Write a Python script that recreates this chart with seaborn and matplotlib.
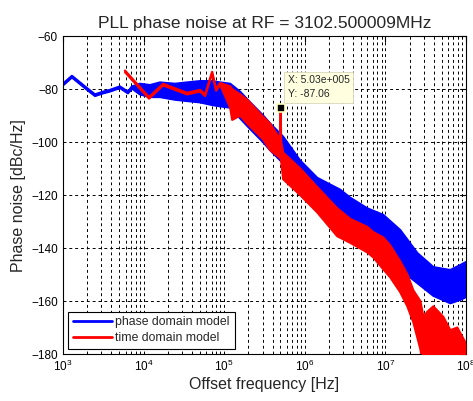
import numpy as np
import pandas as pd
import seaborn as sns
import matplotlib
matplotlib.use("Agg")
import matplotlib.pyplot as plt
from matplotlib.lines import Line2D
from matplotlib.ticker import LogLocator, LogFormatterMathtext, NullFormatter

# ---- data ----
title = "PLL phase noise at RF = 3102.500009MHz"
series_names = ["phase domain model", "time domain model"]

# phase domain model (blue): frequency, upper and lower edge of the noisy trace
blue_freq = [1000, 1294, 1875, 2500, 3140, 3840, 5100, 6410, 7190, 9060, 12050, 16000,
             24600, 34700, 50300, 71000, 89200, 1.19e5, 1.58e5, 2.10e5, 3.05e5, 3.72e5,
             5.41e5, 8.79e5, 1.43e6, 2.76e6, 3.67e6, 5.97e6, 9.44e6, 1.53e7, 2.50e7,
             3.95e7, 6.41e7, 8.55e7, 1.0e8]
blue_upper = [-78, -75, -79, -82, -81, -80.3, -79, -81, -79, -78, -78.5, -77.5,
              -78, -77.5, -77, -77, -77.5, -78, -81, -85, -90, -93,
              -98, -107, -113.5, -118, -121, -125, -127.5, -133.2, -141.9,
              -147.2, -148.3, -146.4, -145.3]
blue_lower = [-78.6, -75.6, -79.6, -82.6, -81.6, -80.9, -79.6, -81.6, -79.8, -82, -83, -83,
              -84, -84.5, -85, -86, -86.5, -87, -91, -95, -100, -103,
              -108, -118, -125, -130, -133, -137, -141, -148, -153.2,
              -158, -160.8, -159.5, -158.5]

# time domain model (red)
red_freq = [5890, 11700, 17500, 34700, 50300, 58100, 71000, 79600, 89200, 1.19e5,
            1.26e5, 1.58e5, 1.93e5, 3.05e5, 3.72e5, 4.95e5, 5.03e5, 5.10e5, 5.41e5,
            8.79e5, 1.43e6, 2.53e6, 3.67e6, 5.97e6, 7.1e6, 9.44e6, 1.15e7, 1.53e7,
            1.88e7, 2.23e7, 2.72e7, 2.97e7, 3.33e7, 3.95e7, 5.25e7, 6.41e7, 7.83e7, 1.0e8]
red_upper = [-73, -83, -78, -81.4, -80.3, -82, -73.5, -80, -77.7, -79,
             -80, -82, -84, -90.5, -93, -99, -87.06, -100, -104,
             -110, -117, -125, -129, -132, -134, -136, -139, -145,
             -150, -156, -160, -166, -164, -162, -166, -171, -170, -176]
red_lower = [-73.6, -83.6, -78.6, -82, -80.9, -82.6, -74.1, -80.6, -78.3, -87,
             -91.6, -90, -93, -99, -103, -106, -106, -107, -114,
             -120, -126.5, -135.5, -138, -141.6, -143.5, -148, -151, -156.6,
             -162, -168, -178, -185, -185, -185, -185, -185, -185, -185]

tip_x = 5.03e5
tip_y = -87.06

blue_df = pd.DataFrame({"f": blue_freq, "up": blue_upper, "lo": blue_lower})
red_df = pd.DataFrame({"f": red_freq, "up": red_upper, "lo": red_lower})

# ---- style ----
sns.set_style("white")
plt.rcParams["font.family"] = ["Liberation Sans", "DejaVu Sans"]
plt.rcParams["mathtext.fontset"] = "custom"
plt.rcParams["mathtext.rm"] = "Liberation Sans"

fig = plt.figure(figsize=(4.73, 4.01), dpi=100)
ax = fig.add_axes([0.133, 0.117, 0.852, 0.793])

blue = "#0000FF"
red = "#FF0000"

ax.fill_between(blue_df["f"], blue_df["lo"], blue_df["up"], color=blue, lw=0, zorder=2)
sns.lineplot(data=blue_df, x="f", y="up", color=blue, lw=1.6, ax=ax, zorder=2)
sns.lineplot(data=blue_df, x="f", y="lo", color=blue, lw=1.6, ax=ax, zorder=2)

ax.fill_between(red_df["f"], red_df["lo"], red_df["up"], color=red, lw=0, zorder=3)
sns.lineplot(data=red_df, x="f", y="up", color=red, lw=1.6, ax=ax, zorder=3)
sns.lineplot(data=red_df, x="f", y="lo", color=red, lw=1.6, ax=ax, zorder=3)

ax.set_xscale("log")
ax.set_xlim(1e3, 1e8)
ax.set_ylim(-180, -60)
ax.set_yticks(np.arange(-180, -59, 20))

ax.xaxis.set_major_locator(LogLocator(base=10))
ax.xaxis.set_major_formatter(LogFormatterMathtext())
ax.xaxis.set_minor_locator(LogLocator(base=10, subs=np.arange(2, 10)))
ax.xaxis.set_minor_formatter(NullFormatter())

grid_ls = (0, (3, 3))
ax.grid(True, which="major", axis="both", color="black", ls=grid_ls, lw=0.7, zorder=1)
ax.grid(True, which="minor", axis="x", color="black", ls=grid_ls, lw=0.7, zorder=1)
ax.set_axisbelow(True)

ax.tick_params(which="both", direction="in", top=True, right=True, colors="black",
               labelsize=8.5)
ax.tick_params(which="major", length=4, width=0.8)
ax.tick_params(which="minor", length=2, width=0.6)
for s in ax.spines.values():
    s.set_color("black")
    s.set_linewidth(0.8)

ax.set_xlabel("Offset frequency [Hz]", fontsize=11.5, labelpad=2)
ax.set_ylabel("Phase noise [dBc/Hz]", fontsize=11.5, labelpad=4)
ax.set_title(title, fontsize=12.5, pad=6)

# data tip
ax.plot([tip_x], [tip_y], marker="s", ms=6, mfc="black", mec="#FFFFC0", mew=1.2,
        ls="none", zorder=6)
ax.annotate(f"X: 5.03e+005\nY: -{abs(tip_y):.2f}", xy=(tip_x, tip_y), xytext=(5, 6),
            textcoords="offset points", fontsize=7.5, va="bottom", ha="left",
            linespacing=1.5,
            bbox=dict(boxstyle="square,pad=0.35", fc="#FFFFE0", ec="#D8D8C0", lw=0.6),
            zorder=7)

handles = [Line2D([0], [0], color=blue, lw=2), Line2D([0], [0], color=red, lw=2)]
leg = ax.legend(handles, series_names, loc="lower left", bbox_to_anchor=(0.012, 0.016),
                fontsize=8.8, frameon=True, fancybox=False, edgecolor="black",
                framealpha=1, handlelength=3.2, borderpad=0.4, labelspacing=0.3,
                handletextpad=0.3, borderaxespad=0)
leg.get_frame().set_linewidth(0.8)
leg.set_zorder(10)

fig.savefig("out.png", dpi=100, facecolor="white")
